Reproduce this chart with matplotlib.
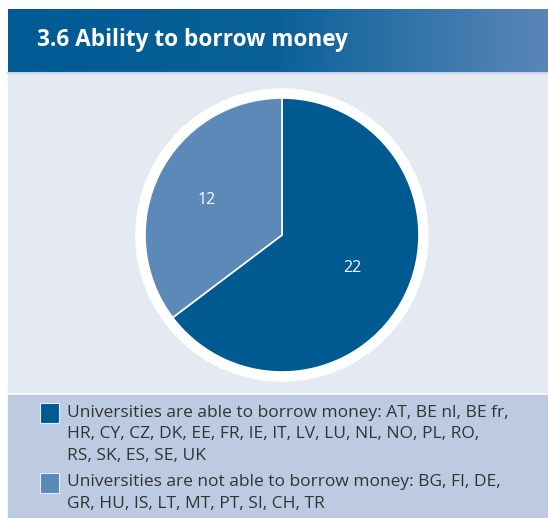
import numpy as np
import matplotlib.pyplot as plt
from matplotlib.patches import Rectangle, Circle
from matplotlib.colors import LinearSegmentedColormap

# Data
values = [22, 12]
labels = ["22", "12"]
colors = ["#005a92", "#5b89b8"]
legend_lines = [
    ["Universities are able to borrow money: AT, BE nl, BE fr,",
     "HR, CY, CZ, DK, EE, FR, IE, IT, LV, LU, NL, NO, PL, RO,",
     "RS, SK, ES, SE, UK"],
    ["Universities are not able to borrow money: BG, FI, DE,",
     "GR, HU, IS, LT, MT, PT, SI, CH, TR"],
]
title = "3.6 Ability to borrow money"

W, H = 548, 518
fig = plt.figure(figsize=(W / 100, H / 100), dpi=100)
ax = fig.add_axes([0, 0, 1, 1])
ax.set_aspect("equal")
ax.axis("off")

# header band with gradient
grad = np.linspace(0, 1, 256).reshape(1, -1)
cmap = LinearSegmentedColormap.from_list("hdr", ["#005a94", "#0a6199", "#5a86b8"])
ax.imshow(grad, cmap=cmap, extent=[8, W, H - 72, H - 9], aspect="auto", zorder=1)
ax.text(37, H - 46, title, color="white", fontsize=16.3, fontweight="bold",
        family="Open Sans", va="baseline", zorder=3)

# chart area and legend area
ax.add_patch(Rectangle((8, H - 392), W - 8, 318, color="#e5e9f2", zorder=1))
ax.add_patch(Rectangle((8, 0), W - 8, H - 395, color="#bccbe1", zorder=1))
ax.plot([8, W], [H - 73, H - 73], color="#c9d5e6", lw=1.5, zorder=2)

# pie
cx, cy, r = 282, H - 235, 137
ax.add_patch(Circle((cx, cy), 146, color="white", zorder=2))
wedges, _ = ax.pie(values, colors=colors, startangle=90, counterclock=False,
                   center=(cx, cy), radius=r,
                   wedgeprops=dict(edgecolor="white", linewidth=1.2))
for w in wedges:
    w.set_zorder(3)
ax.set_xlim(0, W)
ax.set_ylim(0, H)
ax.text(352, H - 268, labels[0], color="white", fontsize=11.5, family="Open Sans",
        ha="center", va="center", zorder=4)
ax.text(207, H - 200, labels[1], color="white", fontsize=11.5, family="Open Sans",
        ha="center", va="center", zorder=4)

# legend
y = H - 413
for col, lines in zip(colors, legend_lines):
    ax.add_patch(Rectangle((40, y - 10), 19, 20, facecolor=col, edgecolor="#e8eef6",
                           lw=0.8, zorder=3))
    for ln in lines:
        ax.text(67, y, ln, color="#333333", fontsize=12.5, family="Open Sans",
                va="center", zorder=3)
        y -= 21.5
    y -= 5

fig.savefig("out.png", dpi=100)
